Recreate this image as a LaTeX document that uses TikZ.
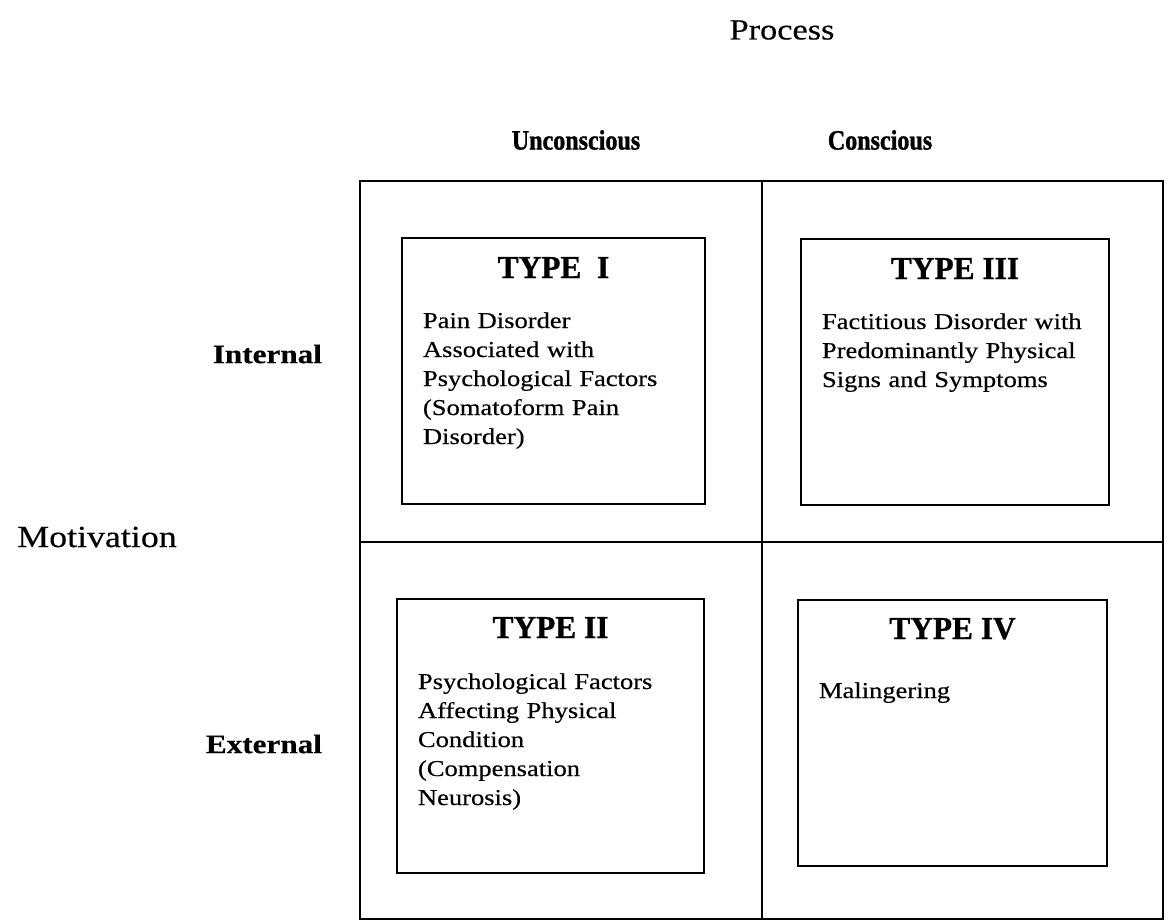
\documentclass[tikz,border=0pt]{standalone}
\usepackage{fontspec}
\setmainfont{Liberation Serif}[FakeStretch=1.17, FakeBold=0.4]
\newfontfamily\headfont{Liberation Serif}[FakeStretch=0.98, BoldFeatures={FakeBold=0.8}]
\newfontfamily\labelfont{Liberation Serif}[FakeStretch=0.86, BoldFeatures={FakeBold=1.2}]
\usetikzlibrary{positioning}

\begin{document}
\begin{tikzpicture}[x=0.75pt, y=-0.75pt, inner sep=0pt, outer sep=0pt]

    % Define the styles for the boxes and labels
    \tikzset{typebox/.style={draw, line width=2.1pt, anchor=north west},
             gridline/.style={line width=1.7pt},
             typehead/.style={anchor=base, font=\headfont\bfseries\fontsize{24}{28}\selectfont},
             typetext/.style={anchor=base west, align=left, text width=270pt,
                              font=\fontsize{17}{21.75}\selectfont},
             axislabel/.style={font=\fontsize{22}{26}\selectfont},
             rowlabel/.style={anchor=east, font=\bfseries\fontsize{20}{24}\selectfont},
             collabel/.style={font=\labelfont\bfseries\fontsize{21}{25}\selectfont}}

    \useasboundingbox (0,0) rectangle (1168,922);

    % Grid
    \draw[gridline] (360,181) rectangle (1163,919);
    \draw[gridline] (762,181) -- (762,919);
    \draw[gridline] (360,542) -- (1163,542);

    % Axis labels
    \node[axislabel] (process) at (782,30) {Process};
    \node[axislabel, font=\fontsize{23}{27}\selectfont] (motivation) at (97,537) {Motivation};
    \node[collabel] (uncon) at (576,140) {Unconscious};
    \node[collabel] (con) at (880,140) {Conscious};
    \node[rowlabel] (internal) at (322,354) {Internal};
    \node[rowlabel] (external) at (322,744) {External};

    % Boxes
    \node[typebox, minimum width=227.25pt, minimum height=199.5pt] (t1) at (402,238) {};
    \node[typebox, minimum width=231pt, minimum height=199.5pt] (t3) at (801,239) {};
    \node[typebox, minimum width=230.25pt, minimum height=205.5pt] (t2) at (397,599) {};
    \node[typebox, minimum width=231.75pt, minimum height=199.5pt] (t4) at (798,600) {};

    % Headings
    \node[typehead] (h1) at ([yshift=-30pt]t1.north) {TYPE\ \ I};
    \node[typehead] (h3) at ([yshift=-30pt]t3.north) {TYPE III};
    \node[typehead] (h2) at ([yshift=-29.25pt]t2.north) {TYPE II};
    \node[typehead] (h4) at ([yshift=-29.25pt]t4.north) {TYPE IV};

    % Texts
    \node[typetext] (d1) at ([xshift=15.75pt, yshift=-67.5pt]t1.north west)
        {Pain Disorder\\ Associated with\\ Psychological Factors\\ (Somatoform Pain\\ Disorder)};
    \node[typetext] (d3) at ([xshift=15.75pt, yshift=-67.5pt]t3.north west)
        {Factitious Disorder with\\ Predominantly Physical\\ Signs and Symptoms};
    \node[typetext] (d2) at ([xshift=15.75pt, yshift=-67.5pt]t2.north west)
        {Psychological Factors\\ Affecting Physical\\ Condition\\ (Compensation\\ Neurosis)};
    \node[typetext] (d4) at ([xshift=15.75pt, yshift=-73.5pt]t4.north west)
        {Malingering};
\end{tikzpicture}
\end{document}
